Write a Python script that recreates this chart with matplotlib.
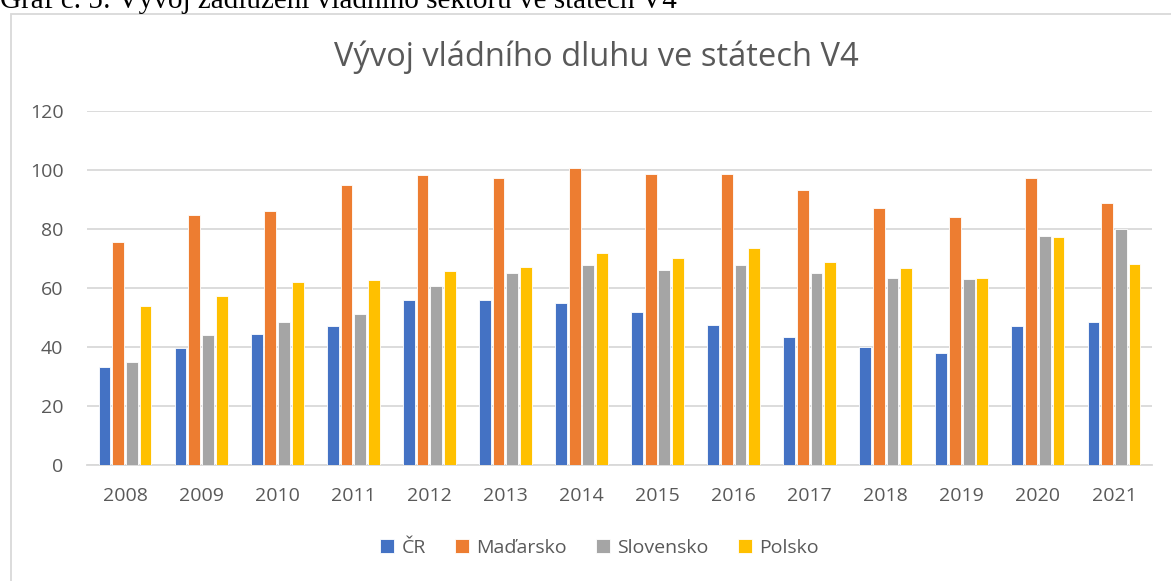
import matplotlib
matplotlib.use("Agg")
import matplotlib.pyplot as plt
import numpy as np
from matplotlib.patches import Rectangle

years = ["2008", "2009", "2010", "2011", "2012", "2013", "2014",
         "2015", "2016", "2017", "2018", "2019", "2020", "2021"]
cr = [33.1, 39.7, 44.2, 47.0, 56.0, 55.8, 54.8, 51.8, 47.3, 43.2, 40.0, 37.9, 46.9, 48.5]
madarsko = [75.6, 84.7, 86.0, 94.9, 98.3, 97.1, 100.6, 98.5, 98.5, 93.1, 86.9, 83.8, 97.1, 88.6]
slovensko = [34.8, 44.0, 48.4, 51.1, 60.6, 65.0, 67.8, 66.0, 67.6, 65.1, 63.2, 62.9, 77.5, 79.8]
polsko = [53.9, 57.2, 62.1, 62.6, 65.8, 66.9, 71.9, 70.2, 73.3, 68.8, 66.6, 63.4, 77.3, 68.1]
series_names = ["ČR", "Maďarsko", "Slovensko", "Polsko"]
colors = ["#4472C4", "#ED7D31", "#A5A5A5", "#FFC000"]
yticks = [0, 20, 40, 60, 80, 100, 120]
title = "Vývoj vládního dluhu ve státech V4"
header = "Graf č. 5: Vývoj zadlužení vládního sektoru ve státech V4"

plt.rcParams['font.family'] = ['Open Sans', 'DejaVu Sans']
W, H = 1171, 581
fig = plt.figure(figsize=(W / 100, H / 100), dpi=100)

# outer chart frame
fig.patches.append(Rectangle((10.5 / W, -0.5), 2.0, 1 - 13.5 / H + 0.5,
                             transform=fig.transFigure, fill=False,
                             edgecolor="#d9d9d9", linewidth=1.3, zorder=0))
# header (cut off at top, as in the reference)
fig.text(0.0, 1 - 8.5 / H, header, family=['Liberation Serif'], fontsize=21,
         color="black", ha="left", va="baseline")

ax = fig.add_axes([87 / W, 1 - 464.7 / H, (1152 - 87) / W, (464.7 - 110.7) / H])
x = np.arange(len(years))
pitch = 0.18
width = 0.155
data = [cr, madarsko, slovensko, polsko]
for i, (vals, name, c) in enumerate(zip(data, series_names, colors)):
    ax.bar(x + (i - 1.5) * pitch, vals, width=width, color=c, label=name,
           edgecolor="white", linewidth=0.6, zorder=3)

ax.set_xlim(-0.5, len(years) - 0.5)
ax.set_ylim(0, 120)
ax.set_yticks(yticks)
ax.set_xticks(x)
ax.set_xticklabels(years)
ax.grid(axis="y", color="#d9d9d9", linewidth=1.3, zorder=0)
ax.set_axisbelow(True)
for s in ["top", "right", "left"]:
    ax.spines[s].set_visible(False)
ax.spines["bottom"].set_color("#d9d9d9")
ax.spines["bottom"].set_linewidth(1.3)
ax.tick_params(axis="both", length=0, labelsize=14, labelcolor="#595959")
ax.tick_params(axis="y", pad=17)
ax.tick_params(axis="x", pad=16)

fig.text(0.509, 1 - 57 / H, title, fontsize=23.5, color="#595959",
         ha="center", va="center")

handles, labels = ax.get_legend_handles_labels()
fig.legend(handles, labels, loc="center", bbox_to_anchor=(0.512, 1 - 548 / H),
           ncol=4, frameon=False, fontsize=14, labelcolor="#595959",
           handlelength=0.7, handleheight=0.7, handletextpad=0.4,
           columnspacing=1.5)

fig.savefig("out.png", dpi=100)
